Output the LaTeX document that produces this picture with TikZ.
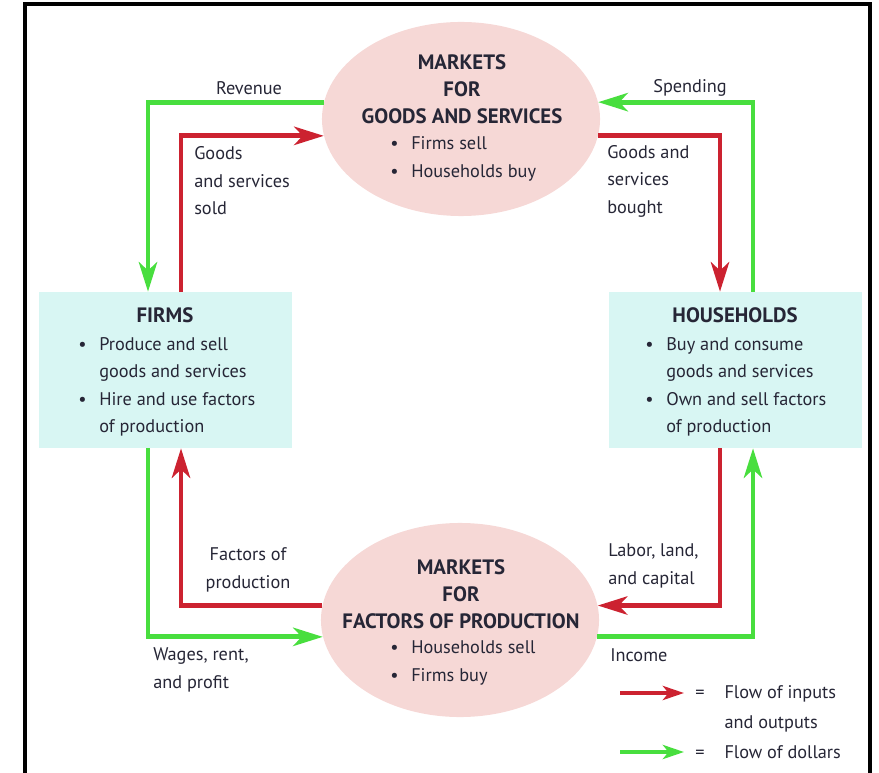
\documentclass[tikz,border=0pt]{standalone}
\usepackage{fontspec}
\setmainfont{PT Sans}
\usetikzlibrary{arrows.meta, shapes.geometric, positioning}

\definecolor{flowred}{RGB}{204,34,48}
\definecolor{flowgreen}{RGB}{72,222,62}
\definecolor{marketpink}{RGB}{246,216,214}
\definecolor{sectorcyan}{RGB}{216,246,243}
\definecolor{ink}{RGB}{38,38,54}

\newcommand{\bul}{\makebox[1.15em][l]{\textbullet}}
\newcommand{\ind}{\hspace*{1.15em}}
\newcommand{\keyeq}{\makebox[1.6em][l]{=}}

\begin{document}
\begin{tikzpicture}[x=0.025cm, y=-0.025cm,
  txt/.style={text=ink, inner sep=0pt, font=\fontsize{13}{19.6}\selectfont},
  heading/.style={txt, align=center, font=\fontsize{14.8}{19.4}\selectfont\bfseries},
  market/.style={ellipse, fill=marketpink, minimum width=6.95cm, minimum height=4.85cm},
  sector/.style={rectangle, fill=sectorcyan, minimum width=6.3cm, minimum height=3.9cm},
  redflow/.style={draw=flowred, line width=3.5pt, -{Stealth[length=21pt, width=13pt, inset=6pt]}},
  greenflow/.style={draw=flowgreen, line width=3.5pt, -{Stealth[length=21pt, width=13pt, inset=6pt]}},
  keyarrow/.style={line width=3.5pt, -{Stealth[length=15pt, width=10pt, inset=4pt]}}]
\useasboundingbox (0,0) rectangle (879,773);

% frame
\draw[line width=3.5pt] (25,776) -- (25,4) -- (870,4) -- (870,776);

% the four boxes
\node[market] (goods) at (461,119) {};
\node[market] (factors) at (460,620) {};
\node[sector] (firms) at (165.5,370) {};
\node[sector] (households) at (735.5,370) {};

\node[heading] (goodstitle) at (462,89) {MARKETS\\FOR\\GOODS AND SERVICES};
\node[txt, align=left, anchor=west] (goodslist) at (390,159) {\bul Firms sell\\\bul Households buy};
\node[heading] (factorstitle) at (461,594) {MARKETS\\FOR\\FACTORS OF PRODUCTION};
\node[txt, align=left, anchor=west] (factorslist) at (390,663) {\bul Households sell\\\bul Firms buy};

\node[heading] (firmstitle) at (165,315) {FIRMS};
\node[txt, align=left, anchor=west] (firmslist) at (78,387)
  {\bul Produce and sell\\\ind goods and services\\\bul Hire and use factors\\\ind of production};
\node[heading] (hhtitle) at (735,315) {HOUSEHOLDS};
\node[txt, align=left, anchor=west] (hhlist) at (645,387)
  {\bul Buy and consume\\\ind goods and services\\\bul Own and sell factors\\\ind of production};

% lanes
\coordinate (lgreen) at (148,0);
\coordinate (lred) at (181,0);
\coordinate (rred) at (720,0);
\coordinate (rgreen) at (753,0);

% flows
\draw[greenflow] (goods.173) -| (firms.north -| lgreen);
\draw[redflow] (firms.north -| lred) |- (goods.187);
\draw[greenflow] (households.north -| rgreen) |- (goods.7);
\draw[redflow] (goods.-7) -| (households.north -| rred);
\draw[redflow] (factors.174) -| (firms.south -| lred);
\draw[greenflow] (firms.south -| lgreen) |- (factors.187);
\draw[redflow] (households.south -| rred) |- (factors.6);
\draw[greenflow] (factors.-7) -| (households.south -| rgreen);

% flow labels
\node[txt] (revenue) at (249,88) {Revenue};
\node[txt, align=left, anchor=west] (sold) at (194,181) {Goods\\and services\\sold};
\node[txt] (spending) at (690,88) {Spending};
\node[txt, align=left, anchor=west] (bought) at (607,181) {Goods and\\services\\bought};
\node[txt, align=center] (inputs) at (248,570) {Factors of\\production};
\node[txt, align=left, anchor=west] (wages) at (153,670) {Wages, rent,\\and profit};
\node[txt, align=left, anchor=west] (labor) at (608,566) {Labor, land,\\and capital};
\node[txt, anchor=west] (income) at (610,655) {Income};

% key
\coordinate (keyra) at (620,693);
\coordinate (keyrb) at (684,693);
\coordinate (keyga) at (620,752);
\coordinate (keygb) at (684,752);
\draw[keyarrow, draw=flowred] (keyra) -- (keyrb);
\draw[keyarrow, draw=flowgreen] (keyga) -- (keygb);
\node[txt, align=left, anchor=west, font=\fontsize{13}{21}\selectfont] (keyred) at (695,709)
  {\keyeq Flow of inputs\\\phantom{\keyeq}and outputs};
\node[txt, anchor=west] (keygreen) at (695,752) {\keyeq Flow of dollars};
\end{tikzpicture}
\end{document}
